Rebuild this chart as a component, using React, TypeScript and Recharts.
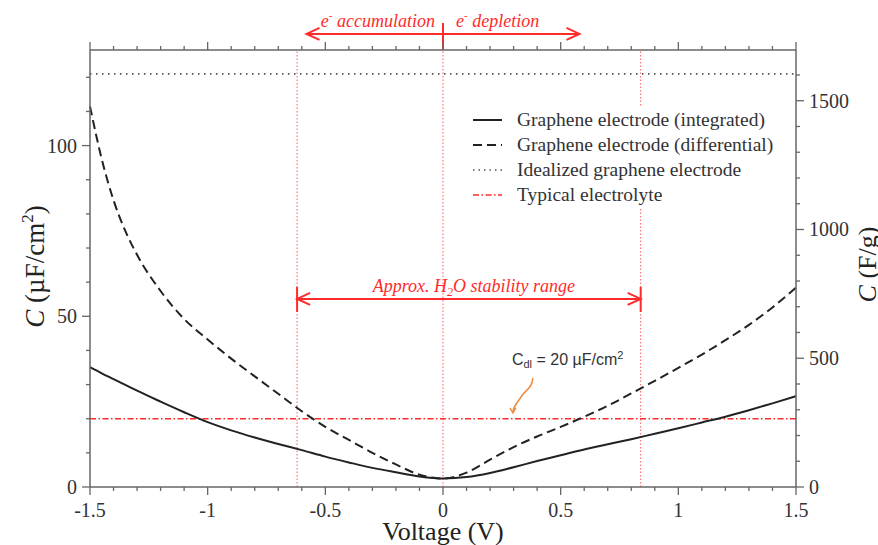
import React from "react";
import { ComposedChart, Line, XAxis, YAxis, ReferenceLine, Legend } from "recharts";

// voltage (V) and capacitance (µF/cm²)
const voltage = [
  -1.5, -1.45, -1.4, -1.35, -1.3, -1.2, -1.1, -1.0, -0.9, -0.8, -0.7, -0.6, -0.5, -0.4, -0.3, -0.2, -0.1,
  0, 0.1, 0.2, 0.3, 0.4, 0.5, 0.6, 0.7, 0.8, 0.9, 1.0, 1.1, 1.2, 1.3, 1.4, 1.5,
];
const integrated = [
  35.1, 33.3, 31.6, 29.9, 28.2, 25.0, 21.9, 19.0, 16.6, 14.5, 12.6, 10.8, 8.9, 7.2, 5.6, 4.3, 3.1,
  2.5, 2.9, 4.1, 5.8, 7.6, 9.3, 11.0, 12.5, 14.0, 15.6, 17.2, 18.9, 20.6, 22.5, 24.5, 26.6,
];
const differential = [
  111.5, 96, 84, 75, 68, 57.4, 49.2, 43.2, 37.6, 32.4, 27.3, 22.2, 17.6, 13.8, 10.0, 6.6, 3.6,
  2.5, 4.2, 8.0, 11.7, 14.8, 17.6, 20.6, 23.8, 27.4, 31.1, 34.9, 38.8, 43.0, 47.5, 52.6, 58.4,
];

const IDEAL_C = 121;
const ELECTROLYTE_C = 20;
const H2O_LOW = -0.62;
const H2O_HIGH = 0.84;

const xTicks = [
  -1.5, -1.4, -1.3, -1.2, -1.1, -1, -0.9, -0.8, -0.7, -0.6, -0.5, -0.4, -0.3, -0.2, -0.1,
  0, 0.1, 0.2, 0.3, 0.4, 0.5, 0.6, 0.7, 0.8, 0.9, 1, 1.1, 1.2, 1.3, 1.4, 1.5,
];
const xMajor = [-1.5, -1, -0.5, 0, 0.5, 1, 1.5];
const leftTicks = [0, 10, 20, 30, 40, 50, 60, 70, 80, 90, 100, 110, 120];
const leftMajor = [0, 50, 100];
const rightTicks = [0, 100, 200, 300, 400, 500, 600, 700, 800, 900, 1000, 1100, 1200, 1300, 1400, 1500, 1600];
const rightMajor = [0, 500, 1000, 1500];

const data = voltage.map((v, i) => ({ v, integrated: integrated[i], differential: differential[i] }));

const AXIS = "#666";
const RED = "#ff2b2b";
const SERIF = "'Liberation Serif', 'Times New Roman', serif";

const isIn = (list: number[], v: number) => list.some((m) => Math.abs(m - v) < 1e-6);

const BottomTick = ({ x, y, payload }: any) => {
  const major = isIn(xMajor, payload.value);
  return (
    <g>
      <line x1={x} y1={y} x2={x} y2={y + (major ? 8 : 4)} stroke={AXIS} strokeWidth={1.3} />
      {major && (
        <text x={x} y={y + 30} textAnchor="middle" fontFamily={SERIF} fontSize={20} fill="#333">
          {String(payload.value)}
        </text>
      )}
    </g>
  );
};

const TopTick = ({ x, y, payload }: any) => {
  const major = isIn(xMajor, payload.value);
  return <line x1={x} y1={y} x2={x} y2={y - (major ? 8 : 4)} stroke={AXIS} strokeWidth={1.3} />;
};

const LeftTick = ({ x, y, payload }: any) => {
  const major = isIn(leftMajor, payload.value);
  return (
    <g>
      <line x1={x} y1={y} x2={x - (major ? 8 : 4)} y2={y} stroke={AXIS} strokeWidth={1.3} />
      {major && (
        <text x={x - 13} y={y + 7} textAnchor="end" fontFamily={SERIF} fontSize={20} fill="#333">
          {payload.value}
        </text>
      )}
    </g>
  );
};

const RightTick = ({ x, y, payload }: any) => {
  const major = isIn(rightMajor, payload.value);
  return (
    <g>
      <line x1={x} y1={y} x2={x + (major ? 8 : 4)} y2={y} stroke={AXIS} strokeWidth={1.3} />
      {major && (
        <text x={x + 13} y={y + 7} textAnchor="start" fontFamily={SERIF} fontSize={20} fill="#333">
          {payload.value}
        </text>
      )}
    </g>
  );
};

const XLabel = (props: any) => {
  const vb = props.viewBox || { x: 90, y: 487, width: 706, height: 58 };
  return (
    <text x={vb.x + vb.width / 2} y={vb.y + 53} textAnchor="middle" fontFamily={SERIF} fontSize={26} fill="#222">
      Voltage (V)
    </text>
  );
};

const LeftLabel = (props: any) => {
  const vb = props.viewBox || { x: 0, y: 50, width: 90, height: 437 };
  const cy = vb.y + vb.height / 2 - 2;
  return (
    <text transform={`translate(44, ${cy}) rotate(-90)`} textAnchor="middle" fontFamily={SERIF} fontSize={27} fill="#222">
      <tspan fontStyle="italic">C</tspan>
      <tspan> (µF/cm</tspan>
      <tspan fontSize={17} dy={-11}>2</tspan>
      <tspan dy={11}>)</tspan>
    </text>
  );
};

const RightLabel = (props: any) => {
  const vb = props.viewBox || { x: 796, y: 50, width: 82, height: 437 };
  const cy = vb.y + vb.height / 2 - 4;
  return (
    <text transform={`translate(${vb.x + 80}, ${cy}) rotate(-90)`} textAnchor="middle" fontFamily={SERIF} fontSize={26} fill="#222">
      <tspan fontStyle="italic">C</tspan>
      <tspan> (F/g)</tspan>
    </text>
  );
};

const head = (x: number, y: number, dir: number) => (
  <path d={`M${x + dir * 13},${y - 6} L${x},${y} L${x + dir * 13},${y + 6}`} fill="none" stroke={RED} strokeWidth={2} />
);

// one-sided arrow above the plot with its caption
const TopArrow = (text: string, side: number) => (props: any) => {
  const { x1, y1, x2, y2 } = props;
  const dir = x2 < x1 ? 1 : -1;
  return (
    <g>
      <line x1={x1} y1={y1} x2={x2} y2={y2} stroke={RED} strokeWidth={2} />
      {head(x2, y2, dir)}
      <text
        x={side < 0 ? x1 - 8 : x1 + 13}
        y={y1 - 7}
        textAnchor={side < 0 ? "end" : "start"}
        fontFamily={SERIF}
        fontStyle="italic"
        fontSize={18}
        fill={RED}
      >
        e<tspan fontSize={11} dy={-8}>-</tspan>
        <tspan dy={8}>{" " + text}</tspan>
      </text>
    </g>
  );
};

const RangeArrow = (props: any) => {
  const { x1, y1, x2, y2 } = props;
  return (
    <g>
      <line x1={x1} y1={y1} x2={x2} y2={y2} stroke={RED} strokeWidth={2} />
      {head(x1, y1, 1)}
      {head(x2, y2, -1)}
      <line x1={x1} y1={y1 - 12} x2={x1} y2={y1 + 13} stroke={RED} strokeWidth={2} />
      <line x1={x2} y1={y2 - 12} x2={x2} y2={y2 + 13} stroke={RED} strokeWidth={2} />
      <text x={(x1 + x2) / 2 + 5} y={y1 - 7} textAnchor="middle" fontFamily={SERIF} fontStyle="italic" fontSize={18} fill={RED}>
        Approx. H<tspan fontSize={12} dy={4}>2</tspan>
        <tspan dy={-4}>O stability range</tspan>
      </text>
    </g>
  );
};

const Squiggle = (props: any) => {
  const { x1, y1, x2, y2 } = props;
  return (
    <g>
      <text x={x1 - 21} y={y1 - 13} fontFamily="'Liberation Sans', Arial, sans-serif" fontSize={16} fill="#333">
        C<tspan fontSize={11} dy={3}>dl</tspan>
        <tspan dy={-3}> = 20 µF/cm</tspan>
        <tspan fontSize={11} dy={-6}>2</tspan>
      </text>
      <path
        d={`M${x1},${y1} C${x1 - 1},${y1 + 11} ${x1 - 8},${y1 + 12} ${x1 - 12},${y1 + 19} S${x2 + 1},${y2 - 9} ${x2},${y2}`}
        fill="none"
        stroke="#f08a3c"
        strokeWidth={1.6}
      />
      <path d={`M${x2 - 3},${y2 - 5} L${x2},${y2} L${x2 + 3},${y2 - 5}`} fill="none" stroke="#f08a3c" strokeWidth={1.4} />
    </g>
  );
};

const legendRows = [
  { label: "Graphene electrode (integrated)", color: "#222", dash: undefined, width: 2 },
  { label: "Graphene electrode (differential)", color: "#222", dash: "9 5", width: 2 },
  { label: "Idealized graphene electrode", color: "#555", dash: "1.5 4", width: 1.5 },
  { label: "Typical electrolyte", color: RED, dash: "6 2.5 1.5 2.5", width: 1.6 },
];

const renderLegend = () => (
  <div style={{ background: "#fff", paddingLeft: 18 }}>
    {legendRows.map((r) => (
      <div key={r.label} style={{ height: 25, display: "flex", alignItems: "center" }}>
        <svg width={29} height={10} style={{ marginRight: 15 }}>
          <line x1={0} y1={5} x2={29} y2={5} stroke={r.color} strokeWidth={r.width} strokeDasharray={r.dash} />
        </svg>
        <span style={{ fontFamily: SERIF, fontSize: 19.5, color: "#333", whiteSpace: "nowrap" }}>{r.label}</span>
      </div>
    ))}
  </div>
);

export default function App() {
  return (
    <div style={{ position: "absolute", left: 0, top: 0, background: "#fff" }}>
      <ComposedChart width={878} height={545} data={data} margin={{ top: 0, right: 0, bottom: 0, left: 0 }}>
        <XAxis
          dataKey="v"
          type="number"
          domain={[-1.5, 1.5]}
          ticks={xTicks}
          interval={0}
          tickSize={0}
          tickMargin={0}
          tickLine={false}
          tick={<BottomTick />}
          height={58}
          axisLine={{ stroke: AXIS, strokeWidth: 1.5 }}
          label={<XLabel />}
        />
        <XAxis
          xAxisId="top"
          orientation="top"
          dataKey="v"
          type="number"
          domain={[-1.5, 1.5]}
          ticks={xTicks}
          interval={0}
          tickSize={0}
          tickMargin={0}
          tickLine={false}
          tick={<TopTick />}
          height={50}
          axisLine={{ stroke: AXIS, strokeWidth: 1.5 }}
        />
        <YAxis
          type="number"
          domain={[0, 128]}
          allowDataOverflow
          ticks={leftTicks}
          interval={0}
          tickSize={0}
          tickMargin={0}
          tickLine={false}
          tick={<LeftTick />}
          width={90}
          axisLine={{ stroke: AXIS, strokeWidth: 1.5 }}
          label={<LeftLabel />}
        />
        <YAxis
          yAxisId="right"
          orientation="right"
          type="number"
          domain={[0, 1697]}
          allowDataOverflow
          ticks={rightTicks}
          interval={0}
          tickSize={0}
          tickMargin={0}
          tickLine={false}
          tick={<RightTick />}
          width={82}
          axisLine={{ stroke: AXIS, strokeWidth: 1.5 }}
          label={<RightLabel />}
        />

        <ReferenceLine x={H2O_LOW} stroke="#ff5a5a" strokeWidth={1} strokeDasharray="1.5 2" />
        <ReferenceLine x={0} stroke="#ff5a5a" strokeWidth={1} strokeDasharray="1.5 2" />
        <ReferenceLine x={H2O_HIGH} stroke="#ff5a5a" strokeWidth={1} strokeDasharray="1.5 2" />
        <ReferenceLine y={IDEAL_C} stroke="#555" strokeWidth={1.6} strokeDasharray="1.5 4.5" />
        <ReferenceLine y={ELECTROLYTE_C} stroke={RED} strokeWidth={1.6} strokeDasharray="6 2.5 1.5 2.5" />

        <Line
          dataKey="integrated"
          type="monotone"
          stroke="#222"
          strokeWidth={2}
          dot={false}
          isAnimationActive={false}
        />
        <Line
          dataKey="differential"
          type="monotone"
          stroke="#222"
          strokeWidth={2}
          strokeDasharray="9 5"
          dot={false}
          isAnimationActive={false}
        />

        <ReferenceLine
          segment={[{ x: H2O_LOW, y: 55.1 }, { x: H2O_HIGH, y: 55.1 }]}
          ifOverflow="visible"
          shape={RangeArrow}
        />
        <ReferenceLine
          segment={[{ x: 0, y: 132.7 }, { x: -0.58, y: 132.7 }]}
          ifOverflow="visible"
          shape={TopArrow("accumulation", -1)}
        />
        <ReferenceLine
          segment={[{ x: 0, y: 132.7 }, { x: 0.58, y: 132.7 }]}
          ifOverflow="visible"
          shape={TopArrow("depletion", 1)}
        />
        <ReferenceLine
          segment={[{ x: 0, y: 128 }, { x: 0, y: 135.9 }]}
          ifOverflow="visible"
          stroke={RED}
          strokeWidth={2}
        />
        <ReferenceLine
          segment={[{ x: 0.382, y: 31.9 }, { x: 0.297, y: 21.7 }]}
          ifOverflow="visible"
          shape={Squiggle}
        />

        <Legend
          layout="vertical"
          align="center"
          verticalAlign="middle"
          content={renderLegend}
          wrapperStyle={{ left: 455, top: 107, width: 335, height: 100 }}
        />
      </ComposedChart>
    </div>
  );
}
